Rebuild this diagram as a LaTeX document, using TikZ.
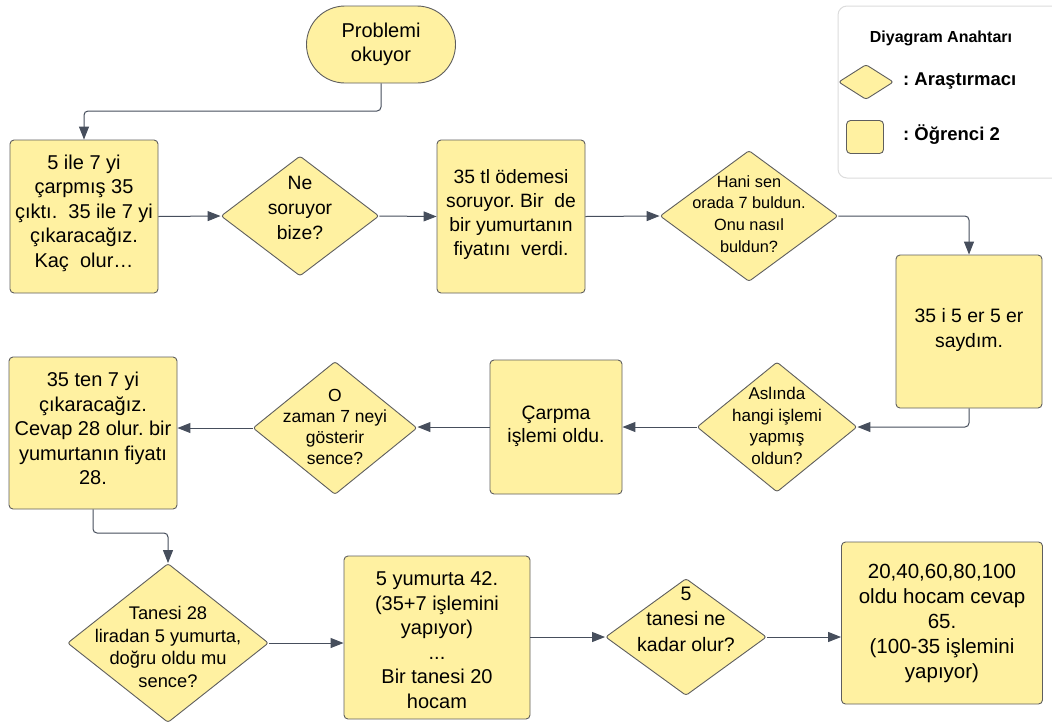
\documentclass[tikz,border=0pt]{standalone}
\usepackage{fontspec}
\setmainfont{Liberation Sans}
\frenchspacing
\usetikzlibrary{arrows.meta,shapes.geometric,shapes.misc}
\definecolor{fillY}{HTML}{FFF1A1}
\definecolor{edgeC}{HTML}{5E5E5E}
\definecolor{arrC}{HTML}{464E5C}
\definecolor{legC}{HTML}{DCDCDC}
\tikzset{
  box/.style={draw=edgeC, line width=0.9pt, fill=fillY, rounded corners=4pt, align=center, inner sep=0pt, font=\fontsize{20}{24.5}\selectfont},
  btxt/.style={align=center, inner sep=0pt, font=\fontsize{20}{24.5}\selectfont},
  dia/.style={draw=edgeC, line width=0.9pt, fill=fillY, diamond, rounded corners=2.5pt, inner sep=0pt},
  dtxt/.style={align=center, inner sep=0pt, font=\fontsize{17}{21.7}\selectfont},
  conn/.style={draw=arrC, line width=1pt, rounded corners=4pt, -{Triangle[length=13pt,width=10pt]}},
  legtxt/.style={anchor=west, inner sep=0pt, font=\bfseries\fontsize{18.5}{22}\selectfont}
}
\begin{document}
\begin{tikzpicture}[x=1pt,y=-1pt]
\clip (0,0) rectangle (1052,724);
\fill[white] (0,0) rectangle (1052,724);

% legend
\draw[legC, line width=1pt, rounded corners=9pt, fill=white] (838,6) rectangle (1070,178);
\node[inner sep=0pt, font=\bfseries\fontsize{16}{19}\selectfont] (legtitle) at (941,38) {Diyagram Anahtarı};
\node[dia, minimum width=55pt, minimum height=35pt] (legd) at (866,82) {};
\node[legtxt] (legdt) at (903,81) {: Araştırmacı};
\node[box, minimum width=37pt, minimum height=33pt] (legb) at (865,137) {};
\node[legtxt] (legbt) at (903,135) {: Öğrenci 2};

% start
\node[draw=edgeC, line width=0.9pt, fill=fillY, rounded rectangle, minimum width=149pt, minimum height=77pt, inner sep=0pt, align=center, font=\fontsize{20}{24.5}\selectfont] (st) at (381,44.5) {Problemi\\okuyor};

% row 1
\node[box, minimum width=148pt, minimum height=153pt] (b1) at (84,216.5) {};
\node[btxt] (b1t) at (84,213) {5 ile 7 yi\\çarpmış 35\\çıktı.~~35 ile 7 yi\\çıkaracağız.\\Kaç~~olur…};
\node[dia, minimum width=158pt, minimum height=120pt] (d1) at (300,216) {};
\node[dtxt, font=\fontsize{19.3}{25}\selectfont] (d1t) at (300,208) {Ne\\soruyor\\bize?};
\node[box, minimum width=148pt, minimum height=153pt] (b2) at (511,216.5) {};
\node[btxt, font=\fontsize{19.3}{24.3}\selectfont] (b2t) at (511,214.5) {35 tl ödemesi\\soruyor. Bir~~de\\bir yumurtanın\\fiyatını~~verdi.};
\node[dia, minimum width=178pt, minimum height=131pt] (d2) at (749,216) {};
\node[dtxt, font=\fontsize{16.3}{21.7}\selectfont] (d2t) at (749,214) {Hani sen\\orada 7 buldun.\\Onu nasıl\\buldun?};
\node[box, minimum width=146pt, minimum height=153pt] (b3) at (969,331.5) {};
\node[btxt, font=\fontsize{19.4}{24.5}\selectfont] (b3t) at (969,330) {35 i 5 er 5 er\\saydım.};

% row 2
\node[dia, minimum width=160pt, minimum height=130pt] (d3) at (777,427) {};
\node[dtxt] (d3t) at (777,426) {Aslında\\hangi işlemi\\yapmış\\oldun?};
\node[box, minimum width=132pt, minimum height=134pt] (b4) at (556,427) {};
\node[btxt, font=\fontsize{19.4}{23.5}\selectfont] (b4t) at (556,426.5) {Çarpma\\işlemi oldu.};
\node[dia, minimum width=164pt, minimum height=133pt] (d4) at (335,428) {};
\node[dtxt, font=\fontsize{17.5}{21.3}\selectfont] (d4t) at (335,427) {O\\zaman 7 neyi\\gösterir\\sence?};
\node[box, minimum width=168pt, minimum height=152pt] (b5) at (93,433) {};
\node[btxt] (b5t) at (93,428.5) {35 ten 7 yi\\çıkaracağız.\\Cevap 28 olur. bir\\yumurtanın fiyatı\\28.};

% row 3
\node[dia, minimum width=201pt, minimum height=159pt] (d5) at (168,643) {};
\node[dtxt, font=\fontsize{18.3}{22.8}\selectfont] (d5t) at (168,647) {Tanesi 28\\liradan 5 yumurta,\\doğru oldu mu\\sence?};
\node[box, minimum width=186pt, minimum height=163pt] (b6) at (437,637.5) {};
\node[btxt] (b6t) at (437,640) {5 yumurta 42.\\(35+7 işlemini\\yapıyor)\\...\\Bir tanesi 20\\hocam};
\node[dia, minimum width=161pt, minimum height=117pt] (d6) at (686,637) {};
\node[dtxt, font=\fontsize{19.5}{25.5}\selectfont] (d6t) at (686,619) {5\\tanesi ne\\kadar olur?};
\node[box, minimum width=201pt, minimum height=162pt] (b7) at (942,623) {};
\node[btxt, font=\fontsize{20.5}{25}\selectfont] (b7t) at (942,623) {20,40,60,80,100\\oldu hocam cevap\\65.\\(100-35 işlemini\\yapıyor)};

% connectors
\coordinate (e1) at (84,111);
\coordinate (e2) at (168,533);
\draw[conn] (st.south) |- (e1) -- (b1.north);
\draw[conn] (b1.east) -- (d1.west);
\draw[conn] (d1.east) -- (b2.west);
\draw[conn] (b2.east) -- (d2.west);
\draw[conn] (d2.east) -| (b3.north);
\draw[conn] (b3.south) |- (d3.east);
\draw[conn] (d3.west) -- (d3.west -| b4.east);
\draw[conn] (b4.west) -- (b4.west -| d4.east);
\draw[conn] (d4.west) -- (d4.west -| b5.east);
\draw[conn] (b5.south) |- (e2) -- (d5.north);
\draw[conn] (d5.east) -- (d5.east -| b6.west);
\draw[conn] (b6.east |- d6.west) -- (d6.west);
\draw[conn] (d6.east) -- (d6.east -| b7.west);
\end{tikzpicture}
\end{document}
